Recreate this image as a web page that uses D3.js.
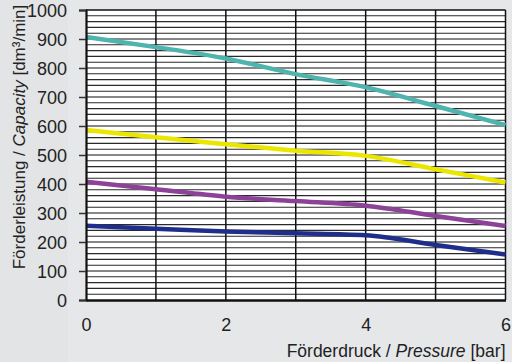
<!DOCTYPE html>
<html><head><meta charset="utf-8">
<script src="https://cdn.jsdelivr.net/npm/d3@7"></script>
<style>
html,body{margin:0;padding:0;background:#e5e7e9;}
svg{display:block;}
text{font-family:"Liberation Sans",Arial,Helvetica,sans-serif;fill:#222;}
</style></head>
<body>
<svg id="c" width="512" height="362"></svg>
<script>
const pressure = [0, 1, 2, 3, 4, 5, 6];
const tealValues   = [907, 872, 833, 779, 734, 669, 603];
const yellowValues = [586, 561, 537, 515, 497, 451, 405];
const purpleValues = [408, 382, 356, 341, 325, 290, 255];
const navyValues   = [256, 246, 236, 230, 223, 190, 157];
const seriesColors = ["#4fb3ae", "#ebe600", "#8c4397", "#1f2e8a"];
const yTickValues = [0,100,200,300,400,500,600,700,800,900,1000];
const xTickValues = [0,2,4,6];

const svg = d3.select("#c");
const W = 512, H = 362;
svg.append("rect").attr("width",W).attr("height",H).attr("fill","#e5e7e9");
svg.append("rect").attr("x",0).attr("y",0).attr("width",68).attr("height",H).attr("fill","#e2e4e6");

const x = d3.scaleLinear().domain([0,6]).range([86,505.5]);
const y = d3.scaleLinear().domain([0,1000]).range([300,10]);

svg.append("rect").attr("x",x(0)).attr("y",y(1000)).attr("width",x(6)-x(0)).attr("height",y(0)-y(1000)).attr("fill","#fff");

const hLines = d3.range(20, 1000, 20);
svg.append("g").selectAll("line").data(hLines).join("line")
  .attr("x1",x(0)).attr("x2",x(6)).attr("y1",d=>y(d)).attr("y2",d=>y(d))
  .attr("stroke",d=> d%100===0 ? "#111" : "#2a2a2a").attr("stroke-width",1.1);
svg.append("g").selectAll("line").data(d3.range(1,6)).join("line")
  .attr("x1",d=>x(d)).attr("x2",d=>x(d)).attr("y1",y(1000)).attr("y2",y(0))
  .attr("stroke","#111").attr("stroke-width",1.5);
svg.append("line").attr("x1",x(0)).attr("x2",x(6)).attr("y1",y(1000)).attr("y2",y(1000)).attr("stroke","#111").attr("stroke-width",1.5);
svg.append("line").attr("x1",x(6)).attr("x2",x(6)).attr("y1",y(1000)).attr("y2",y(0)).attr("stroke","#111").attr("stroke-width",1.5);

const allSeries = [tealValues, yellowValues, purpleValues, navyValues];
const line = d3.line().x((d,i)=>x(pressure[i])).y(d=>y(d)).curve(d3.curveMonotoneX);
svg.append("g").selectAll("path").data(allSeries).join("path")
  .attr("d",line).attr("fill","none")
  .attr("stroke",(d,i)=>seriesColors[i]).attr("stroke-width",4.5)
  .attr("stroke-linecap","butt").attr("stroke-linejoin","round");

const yAxis = d3.axisLeft(y).tickValues(yTickValues).tickSize(7).tickPadding(12).tickFormat(d3.format("d"));
const gy = svg.append("g").attr("transform",`translate(${x(0)},0)`).call(yAxis);
gy.select(".domain").attr("stroke","#111").attr("stroke-width",2.2);
gy.selectAll(".tick line").attr("stroke","#333").attr("stroke-width",1.5);
gy.selectAll(".tick text").style("font-size","18px").attr("fill","#222").attr("dy","0.36em")
  .style("font-family","'Liberation Sans',Arial,sans-serif");

const xAxis = d3.axisBottom(x).tickValues(xTickValues).tickSize(0).tickPadding(18).tickFormat(d3.format("d"));
const gx = svg.append("g").attr("transform",`translate(0,${y(0)})`).call(xAxis);
gx.select(".domain").attr("stroke","#111").attr("stroke-width",2.5);
gx.selectAll(".tick text").style("font-size","18px").attr("fill","#222")
  .style("font-family","'Liberation Sans',Arial,sans-serif");

const xt = svg.append("text").attr("x",505.5).attr("y",356.5).attr("text-anchor","end").style("font-size","17.5px");
xt.append("tspan").text("Förderdruck / ");
xt.append("tspan").style("font-style","italic").text("Pressure");
xt.append("tspan").text(" [bar]");

const yt = svg.append("text").attr("transform","translate(24.5,137) rotate(-90)").attr("text-anchor","middle").style("font-size","17px");
yt.append("tspan").text("Förderleistung / ");
yt.append("tspan").style("font-style","italic").text("Capacity");
yt.append("tspan").text(" [dm³/min]");
</script>
</body></html>
